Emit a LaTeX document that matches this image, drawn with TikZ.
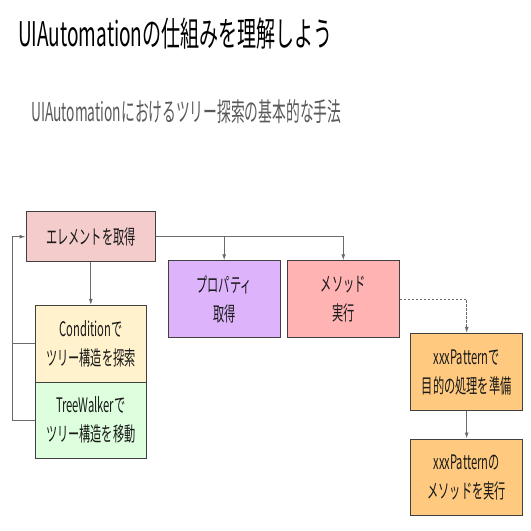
\documentclass[tikz,border=0pt]{standalone}
\usepackage{fontspec}
\usepackage{tikz}
\usetikzlibrary{calc}
\usetikzlibrary{arrows.meta}
\newfontfamily\titlefont[FakeStretch=0.56]{Noto Sans CJK JP}
\newfontfamily\subfont[FakeStretch=0.53]{Noto Sans CJK JP}
\newfontfamily\boxfont[FakeStretch=0.56]{Noto Sans CJK JP}
\definecolor{elemfill}{HTML}{F4CCCC}
\definecolor{condfill}{HTML}{FFF2CC}
\definecolor{walkfill}{HTML}{DDFFDD}
\definecolor{propfill}{HTML}{DDB4FC}
\definecolor{methfill}{HTML}{FFB3B3}
\definecolor{patfill}{HTML}{FFCA7F}
\definecolor{linegray}{HTML}{6B6B6B}

\begin{document}
\begin{tikzpicture}[x=1pt,y=-1pt]
\tikzset{box/.style={draw=black!75,line width=0.9pt,inner sep=0pt,align=center,text=black!90,font=\boxfont\fontsize{20}{29}\selectfont},
         conn/.style={draw=linegray,line width=0.9pt},
         tip/.style={-{Latex[length=6pt,width=4pt]}}}
\useasboundingbox (0,0) rectangle (531,531);
\node (title) at (18,46) [anchor=base west,inner sep=0pt,font=\titlefont\fontsize{34}{36}\selectfont] {UIAutomationの仕組みを理解しよう};
\node (sub) at (31,121.5) [anchor=base west,inner sep=0pt,text=black!65,font=\subfont\fontsize{26}{28}\selectfont] {UIAutomationにおけるツリー探索の基本的な手法};

\node (elem) at (90.8,236.7) [box,fill=elemfill,minimum width=129.7pt,minimum height=50pt] {エレメントを取得};
\node (cond) at (90.8,343.8) [box,fill=condfill,minimum width=111.7pt,minimum height=77pt] {Conditionで\\ツリー構造を探索};
\node (walk) at (90.8,420.3) [box,fill=walkfill,minimum width=111.7pt,minimum height=76pt] {TreeWalkerで\\ツリー構造を移動};
\node (prop) at (224.2,299) [box,fill=propfill,minimum width=111.7pt,minimum height=76.6pt] {プロパティ\\取得};
\node (meth) at (343.3,299) [box,fill=methfill,minimum width=112pt,minimum height=76.6pt] {メソッド\\実行};
\node (pat1) at (466.7,372) [box,fill=patfill,minimum width=112pt,minimum height=77.4pt] {xxxPatternで\\目的の処理を準備};
\node (pat2) at (466.7,477.3) [box,fill=patfill,minimum width=112pt,minimum height=76.7pt] {xxxPatternの\\メソッドを実行};

\coordinate (lx) at (12,0);
\coordinate (branch) at (prop.north |- elem.east);

\path
(elem) edge [conn,tip] (cond)
(branch) edge [conn,tip] (prop.north)
(pat1) edge [conn,tip] (pat2);
\draw [conn,tip] (elem.east) -| (meth.north);
\draw [conn,tip,dashed,dash pattern=on 2.5pt off 1.5pt] (meth.east) -| (pat1.north);
\draw [conn] (cond.west) -- (cond.west -| lx);
\draw [conn,tip] (walk.west) -| (lx |- elem.west) -- (elem.west);
\end{tikzpicture}
\end{document}
